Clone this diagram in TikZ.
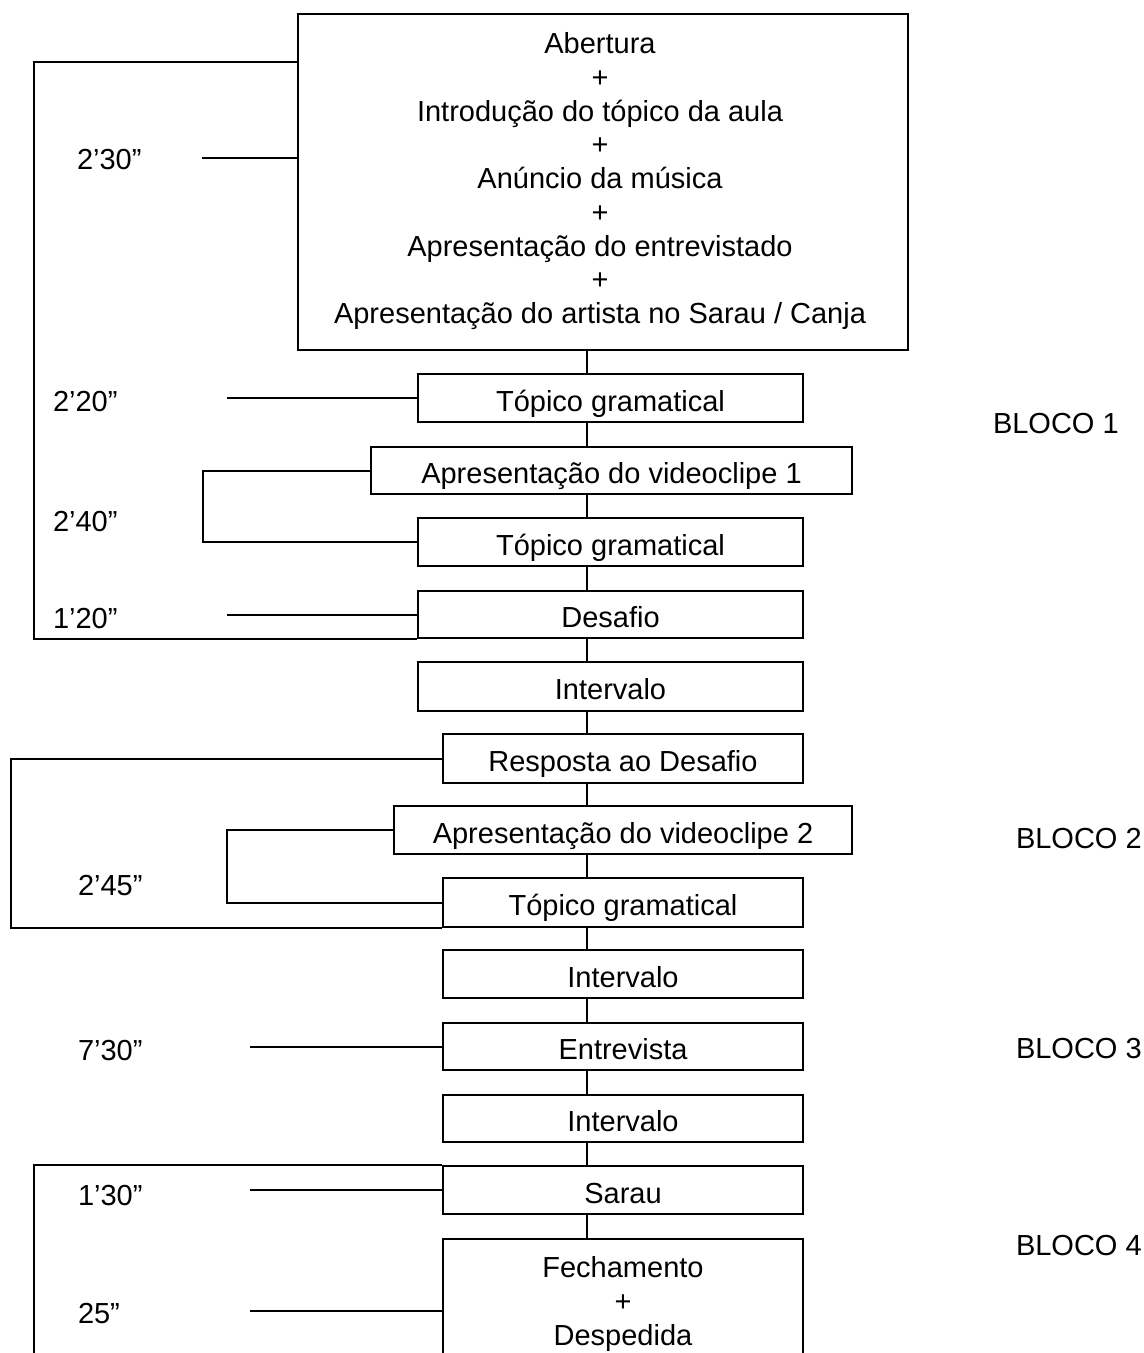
\documentclass[tikz,border=0pt]{standalone}
\usepackage{fontspec}
\setmainfont{Liberation Sans}
\begin{document}
\begin{tikzpicture}[x=1pt,y=-1pt,line width=2pt,
  every node/.style={font=\fontsize{29pt}{33.75pt}\selectfont},
  box/.style={draw,rectangle,inner sep=0pt,text height=26pt,text depth=0pt,line width=2pt},
  bigbox/.style={draw,rectangle,inner sep=0pt,line width=2pt},
  multitext/.style={anchor=north,align=center,inner sep=0pt},
  timelbl/.style={anchor=base west,inner sep=0pt},
  wire/.style={line width=2pt}]
\useasboundingbox (0,0) rectangle (1144,1353);

% boxes
\node[bigbox,minimum width=610pt,minimum height=336pt] (top) at (603,182) {};
\node[multitext] (toptext) at (600,31.5) {Abertura\\+\\Introdução do tópico da aula\\+\\Anúncio da música\\+\\Apresentação do entrevistado\\+\\Apresentação do artista no Sarau / Canja};
\node[box,minimum width=385pt,minimum height=48pt] (T1) at (610.5,398) {Tópico gramatical};
\node[box,minimum width=481pt,minimum height=47pt] (V1) at (611.5,470.5) {Apresentação do videoclipe 1};
\node[box,minimum width=385pt,minimum height=48pt] (T2) at (610.5,542) {Tópico gramatical};
\node[box,minimum width=385pt,minimum height=47pt] (D) at (610.5,614.5) {Desafio};
\node[box,minimum width=385pt,minimum height=49pt] (I1) at (610.5,686.5) {Intervalo};
\node[box,minimum width=360pt,minimum height=49pt] (R) at (623,758.5) {Resposta ao Desafio};
\node[box,minimum width=458pt,minimum height=48pt] (V2) at (623,830) {Apresentação do videoclipe 2};
\node[box,minimum width=360pt,minimum height=49pt] (T3) at (623,902.5) {Tópico gramatical};
\node[box,minimum width=360pt,minimum height=48pt] (I2) at (623,974) {Intervalo};
\node[box,minimum width=360pt,minimum height=47pt] (E) at (623,1046.5) {Entrevista};
\node[box,minimum width=360pt,minimum height=47pt] (I3) at (623,1118.5) {Intervalo};
\node[box,minimum width=360pt,minimum height=48pt] (S) at (623,1190) {Sarau};
\node[bigbox,minimum width=360pt,minimum height=117pt] (F) at (623,1297.5) {};
\node[multitext] (ftext) at (623,1255.5) {Fechamento\\+\\Despedida};

% vertical connectors
\coordinate (cx) at (587,0);
\foreach \a/\b in {top/T1,T1/V1,V1/T2,T2/D,D/I1,I1/R,R/V2,V2/T3,T3/I2,I2/E,E/I3,I3/S,S/F}
  \draw[wire] (\a.south -| cx) -- (\b.north -| cx);

% brackets
\coordinate (b1) at (34,62);
\draw[wire] (b1 -| top.west) -- (b1) -- (b1 |- D.south) -- (D.south west);
\coordinate (k1) at (203,0);
\draw[wire] (V1.west) -- (V1.west -| k1) -- (T2.west -| k1) -- (T2.west);
\coordinate (b2) at (11,759);
\draw[wire] (R.west) -- (R.west -| b2) -- (b2 |- T3.south) -- (T3.south west);
\coordinate (k2) at (227,0);
\draw[wire] (V2.west) -- (V2.west -| k2) -- (T3.west -| k2) -- (T3.west);
\coordinate (b4) at (34,1360);
\draw[wire] (S.north west) -- (S.north west -| b4) -- (b4);

% time lines
\coordinate (t1) at (202,158);
\draw[wire] (t1) -- (t1 -| top.west);
\coordinate (t2) at (227,398);
\draw[wire] (t2) -- (T1.west);
\coordinate (t3) at (227,614.5);
\draw[wire] (t3) -- (D.west);
\coordinate (t4) at (250,1046.5);
\draw[wire] (t4) -- (E.west);
\coordinate (t5) at (250,1190);
\draw[wire] (t5) -- (S.west);
\coordinate (t6) at (250,1311);
\draw[wire] (t6) -- (t6 -| F.west);

% time labels
\node[timelbl] (L1) at (76,169) {2’30”};
\node[timelbl] (L2) at (52,411) {2’20”};
\node[timelbl] (L3) at (52,531) {2’40”};
\node[timelbl] (L4) at (52,628) {1’20”};
\node[timelbl] (L5) at (77,895) {2’45”};
\node[timelbl] (L6) at (77,1060) {7’30”};
\node[timelbl] (L7) at (77,1205) {1’30”};
\node[timelbl] (L8) at (77,1323) {25”};

% block labels
\node[timelbl] (B1) at (992,433) {BLOCO 1};
\node[timelbl] (B2) at (1015,848) {BLOCO 2};
\node[timelbl] (B3) at (1015,1058) {BLOCO 3};
\node[timelbl] (B4) at (1015,1255) {BLOCO 4};
\end{tikzpicture}
\end{document}
